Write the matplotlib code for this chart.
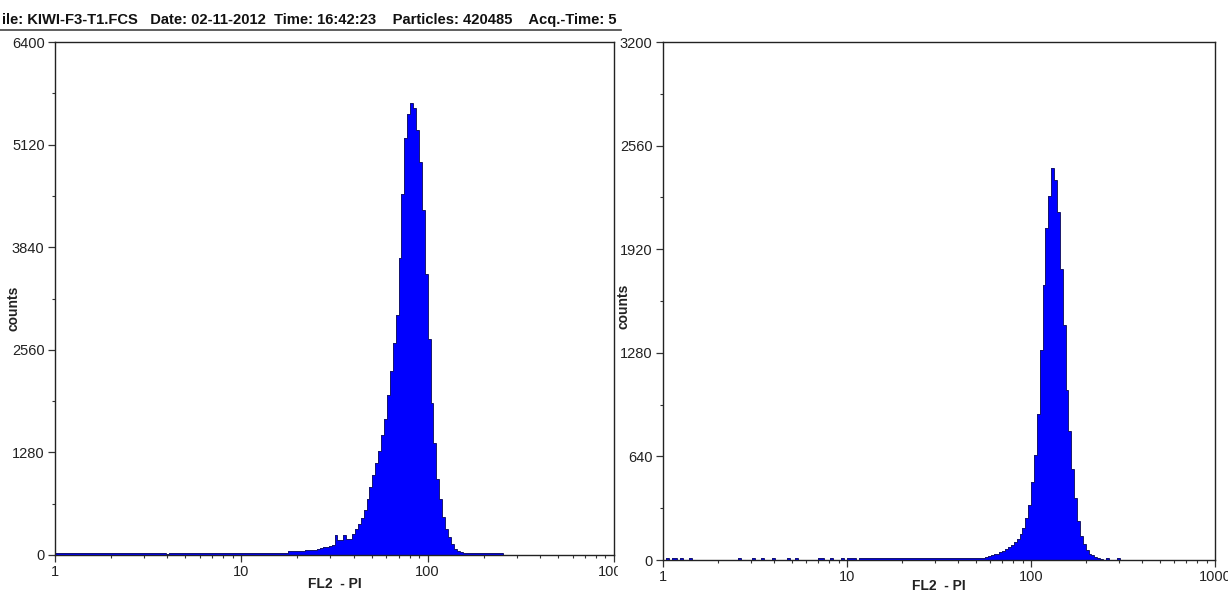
import numpy as np
import matplotlib.pyplot as plt
from matplotlib.ticker import FixedLocator, FixedFormatter, LogLocator, NullFormatter
from matplotlib.patches import Rectangle

plt.rcParams['font.family'] = ['Liberation Sans', 'DejaVu Sans']

# header line of the cytometer printout (cut on both sides in the source)
header = "ile: KIWI-F3-T1.FCS   Date: 02-11-2012  Time: 16:42:23    Particles: 420485    Acq.-Time: 5"

# log channels: 64 per decade, FL2 from 1 to 1000 -> 192 channels
x_ticks = [1, 10, 100, 1000]
x_ticklabels = ["1", "10", "100", "1000"]
x_label = "FL2  - PI"
y_label = "counts"

# left histogram (counts per channel)
left_counts = [
    20, 20, 20, 20, 20, 20, 20, 20, 20, 20, 20, 20, 20, 20, 20, 20,
    20, 20, 20, 20, 20, 20, 20, 20, 20, 20, 20, 20, 20, 20, 20, 20,
    20, 20, 20, 20, 20, 20, 15, 25, 25, 25, 25, 25, 25, 25, 25, 25,
    25, 25, 25, 25, 25, 25, 25, 25, 25, 25, 25, 25, 25, 25, 25, 25,
    25, 25, 25, 25, 25, 25, 25, 25, 25, 25, 25, 25, 25, 25, 25, 25,
    45, 45, 50, 50, 55, 55, 60, 60, 62, 65, 70, 85, 95, 105, 115, 125,
    250, 185, 190, 250, 195, 200, 260, 320, 390, 460, 560, 700, 850, 1000, 1150, 1300,
    1500, 1700, 2000, 2300, 2650, 3000, 3700, 4500, 5200, 5500, 5640, 5580, 5300, 4900, 4300, 3500,
    2700, 1900, 1400, 950, 700, 480, 330, 220, 140, 80, 50, 35, 25, 25, 25, 25,
    25, 25, 25, 25, 25, 25, 25, 25, 25, 25, 0, 0, 0, 0, 0, 0,
    0, 0, 0, 0, 0, 0, 0, 0, 0, 0, 0, 0, 0, 0, 0, 0,
    0, 0, 0, 0, 0, 0, 0, 0, 0, 0, 0, 0, 0, 0, 0, 0,
]
left_yticks = [0, 1280, 2560, 3840, 5120, 6400]

# right histogram (counts per channel)
right_counts = [
    0, 12, 0, 12, 12, 0, 12, 0, 0, 12, 0, 0, 0, 0, 0, 0,
    0, 0, 0, 0, 0, 0, 0, 0, 0, 0, 12, 0, 0, 0, 0, 12,
    0, 0, 12, 0, 0, 0, 12, 0, 0, 0, 0, 12, 0, 0, 12, 0,
    0, 0, 0, 0, 0, 0, 12, 12, 0, 0, 12, 0, 0, 0, 12, 0,
    10, 12, 10, 0, 10, 10, 12, 10, 10, 10, 12, 10, 10, 10, 10, 12,
    10, 10, 10, 10, 12, 10, 10, 10, 10, 10, 10, 12, 10, 10, 10, 10,
    10, 12, 10, 10, 12, 10, 10, 12, 10, 12, 12, 10, 12, 12, 12, 15,
    18, 22, 30, 35, 40, 50, 55, 65, 80, 95, 110, 130, 160, 200, 260, 340,
    480, 650, 900, 1300, 1700, 2050, 2250, 2420, 2350, 2150, 1800, 1450, 1050, 800, 560, 380,
    240, 150, 100, 60, 40, 30, 20, 12, 5, 0, 12, 0, 0, 0, 12, 0,
    0, 0, 0, 0, 0, 0, 0, 0, 0, 0, 0, 0, 0, 0, 0, 0,
    0, 0, 0, 0, 0, 0, 0, 0, 0, 0, 0, 0, 0, 0, 0, 0,
]
right_yticks = [0, 640, 1280, 1920, 2560, 3200]

FILL = "#0000ff"
EDGE = "#16166e"
TXT = "#222222"


def draw_hist(ax, counts, yticks, xlabelpad):
    counts = np.asarray(counts, dtype=float)
    edges = np.logspace(0, 3, len(counts) + 1)
    ax.stairs(counts, edges, fill=True, color=FILL, lw=0)
    ax.stairs(counts, edges, color=EDGE, lw=0.7)

    ax.set_xscale("log")
    ax.set_xlim(1, 1000)
    ax.set_ylim(yticks[0], yticks[-1])

    ax.xaxis.set_major_locator(FixedLocator(x_ticks))
    ax.xaxis.set_major_formatter(FixedFormatter(x_ticklabels))
    ax.xaxis.set_minor_locator(LogLocator(base=10, subs=range(2, 10)))
    ax.xaxis.set_minor_formatter(NullFormatter())

    step = yticks[1] - yticks[0]
    ax.yaxis.set_major_locator(FixedLocator(yticks))
    ax.yaxis.set_minor_locator(FixedLocator([t + step / 2 for t in yticks[:-1]]))
    ax.yaxis.set_minor_formatter(NullFormatter())

    ax.tick_params(which="major", direction="out", length=5, width=0.9,
                   pad=2.5, labelsize=10.5, labelcolor=TXT, color="#333333")
    ax.tick_params(which="minor", direction="out", length=2.5, width=0.8,
                   color="#333333")
    for s in ax.spines.values():
        s.set_linewidth(1.0)
        s.set_color("#222222")

    ax.set_xlabel(x_label, fontsize=10, fontweight="bold", color=TXT,
                  labelpad=xlabelpad)
    ax.set_ylabel(y_label, fontsize=10, fontweight="bold", color=TXT)


fig = plt.figure(figsize=(12.28, 5.92), dpi=100)
ax1 = fig.add_axes([55 / 1228, 1 - 555 / 592, 559 / 1228, 513 / 592])
ax2 = fig.add_axes([663 / 1228, 1 - 560 / 592, 552 / 1228, 518 / 592])

draw_hist(ax1, left_counts, left_yticks, -2)
draw_hist(ax2, right_counts, right_yticks, -4)
ax1.yaxis.set_label_coords(-0.061, 0.48)
ax2.yaxis.set_label_coords(-0.058, 0.49)

# header text with its underline
fig.text(2 / 1228, 1 - 24 / 592, header, fontsize=10.6, fontweight="bold",
         color="#111111", ha="left", va="baseline")
fig.add_artist(plt.Line2D([0, 621 / 1228], [1 - 30 / 592] * 2,
                          color="#444444", lw=1.2))

# the right panel sits over the end of the left "1000" label
fig.add_artist(Rectangle((618 / 1228, 0), 16 / 1228, 30 / 592,
                         transform=fig.transFigure, color="white", zorder=5))

fig.savefig("out.png", dpi=100, facecolor="white")
